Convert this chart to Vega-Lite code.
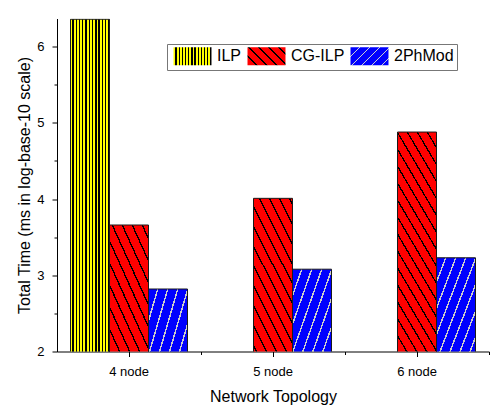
{
  "$schema": "https://vega.github.io/schema/vega-lite/v6.json",
  "autosize": {"type": "none"},
  "padding": {"left": 57, "top": 18.5, "right": 2, "bottom": 58.5},
  "width": 432,
  "height": 333,
  "params": [
    {
      "name": "ilpStops",
      "value": [
        {"offset": 0, "color": "#ff0"}, {"offset": 0.05, "color": "#ff0"}, {"offset": 0.05, "color": "#000"}, {"offset": 0.0833, "color": "#000"},
        {"offset": 0.0833, "color": "#ff0"}, {"offset": 0.1333, "color": "#ff0"}, {"offset": 0.1333, "color": "#000"}, {"offset": 0.1667, "color": "#000"},
        {"offset": 0.1667, "color": "#ff0"}, {"offset": 0.2167, "color": "#ff0"}, {"offset": 0.2167, "color": "#000"}, {"offset": 0.25, "color": "#000"},
        {"offset": 0.25, "color": "#ff0"}, {"offset": 0.3, "color": "#ff0"}, {"offset": 0.3, "color": "#000"}, {"offset": 0.3333, "color": "#000"},
        {"offset": 0.3333, "color": "#ff0"}, {"offset": 0.3833, "color": "#ff0"}, {"offset": 0.3833, "color": "#000"}, {"offset": 0.4167, "color": "#000"},
        {"offset": 0.4167, "color": "#ff0"}, {"offset": 0.4667, "color": "#ff0"}, {"offset": 0.4667, "color": "#000"}, {"offset": 0.5, "color": "#000"},
        {"offset": 0.5, "color": "#ff0"}, {"offset": 0.55, "color": "#ff0"}, {"offset": 0.55, "color": "#000"}, {"offset": 0.5833, "color": "#000"},
        {"offset": 0.5833, "color": "#ff0"}, {"offset": 0.6333, "color": "#ff0"}, {"offset": 0.6333, "color": "#000"}, {"offset": 0.6667, "color": "#000"},
        {"offset": 0.6667, "color": "#ff0"}, {"offset": 0.7167, "color": "#ff0"}, {"offset": 0.7167, "color": "#000"}, {"offset": 0.75, "color": "#000"},
        {"offset": 0.75, "color": "#ff0"}, {"offset": 0.8, "color": "#ff0"}, {"offset": 0.8, "color": "#000"}, {"offset": 0.8333, "color": "#000"},
        {"offset": 0.8333, "color": "#ff0"}, {"offset": 0.8833, "color": "#ff0"}, {"offset": 0.8833, "color": "#000"}, {"offset": 0.9167, "color": "#000"},
        {"offset": 0.9167, "color": "#ff0"}, {"offset": 0.9667, "color": "#ff0"}, {"offset": 0.9667, "color": "#000"}, {"offset": 1, "color": "#000"}
      ]
    },
    {
      "name": "cgStops",
      "value": [
        {"offset": 0, "color": "#f00"}, {"offset": 0.02833, "color": "#f00"}, {"offset": 0.02833, "color": "#000"}, {"offset": 0.03333, "color": "#000"},
        {"offset": 0.03333, "color": "#f00"}, {"offset": 0.06167, "color": "#f00"}, {"offset": 0.06167, "color": "#000"}, {"offset": 0.06667, "color": "#000"},
        {"offset": 0.06667, "color": "#f00"}, {"offset": 0.095, "color": "#f00"}, {"offset": 0.095, "color": "#000"}, {"offset": 0.1, "color": "#000"},
        {"offset": 0.1, "color": "#f00"}, {"offset": 0.12833, "color": "#f00"}, {"offset": 0.12833, "color": "#000"}, {"offset": 0.13333, "color": "#000"},
        {"offset": 0.13333, "color": "#f00"}, {"offset": 0.16167, "color": "#f00"}, {"offset": 0.16167, "color": "#000"}, {"offset": 0.16667, "color": "#000"},
        {"offset": 0.16667, "color": "#f00"}, {"offset": 0.195, "color": "#f00"}, {"offset": 0.195, "color": "#000"}, {"offset": 0.2, "color": "#000"},
        {"offset": 0.2, "color": "#f00"}, {"offset": 0.22833, "color": "#f00"}, {"offset": 0.22833, "color": "#000"}, {"offset": 0.23333, "color": "#000"},
        {"offset": 0.23333, "color": "#f00"}, {"offset": 0.26167, "color": "#f00"}, {"offset": 0.26167, "color": "#000"}, {"offset": 0.26667, "color": "#000"},
        {"offset": 0.26667, "color": "#f00"}, {"offset": 0.295, "color": "#f00"}, {"offset": 0.295, "color": "#000"}, {"offset": 0.3, "color": "#000"},
        {"offset": 0.3, "color": "#f00"}, {"offset": 0.32833, "color": "#f00"}, {"offset": 0.32833, "color": "#000"}, {"offset": 0.33333, "color": "#000"},
        {"offset": 0.33333, "color": "#f00"}, {"offset": 0.36167, "color": "#f00"}, {"offset": 0.36167, "color": "#000"}, {"offset": 0.36667, "color": "#000"},
        {"offset": 0.36667, "color": "#f00"}, {"offset": 0.395, "color": "#f00"}, {"offset": 0.395, "color": "#000"}, {"offset": 0.4, "color": "#000"},
        {"offset": 0.4, "color": "#f00"}, {"offset": 0.42833, "color": "#f00"}, {"offset": 0.42833, "color": "#000"}, {"offset": 0.43333, "color": "#000"},
        {"offset": 0.43333, "color": "#f00"}, {"offset": 0.46167, "color": "#f00"}, {"offset": 0.46167, "color": "#000"}, {"offset": 0.46667, "color": "#000"},
        {"offset": 0.46667, "color": "#f00"}, {"offset": 0.495, "color": "#f00"}, {"offset": 0.495, "color": "#000"}, {"offset": 0.5, "color": "#000"},
        {"offset": 0.5, "color": "#f00"}, {"offset": 0.52833, "color": "#f00"}, {"offset": 0.52833, "color": "#000"}, {"offset": 0.53333, "color": "#000"},
        {"offset": 0.53333, "color": "#f00"}, {"offset": 0.56167, "color": "#f00"}, {"offset": 0.56167, "color": "#000"}, {"offset": 0.56667, "color": "#000"},
        {"offset": 0.56667, "color": "#f00"}, {"offset": 0.595, "color": "#f00"}, {"offset": 0.595, "color": "#000"}, {"offset": 0.6, "color": "#000"},
        {"offset": 0.6, "color": "#f00"}, {"offset": 0.62833, "color": "#f00"}, {"offset": 0.62833, "color": "#000"}, {"offset": 0.63333, "color": "#000"},
        {"offset": 0.63333, "color": "#f00"}, {"offset": 0.66167, "color": "#f00"}, {"offset": 0.66167, "color": "#000"}, {"offset": 0.66667, "color": "#000"},
        {"offset": 0.66667, "color": "#f00"}, {"offset": 0.695, "color": "#f00"}, {"offset": 0.695, "color": "#000"}, {"offset": 0.7, "color": "#000"},
        {"offset": 0.7, "color": "#f00"}, {"offset": 0.72833, "color": "#f00"}, {"offset": 0.72833, "color": "#000"}, {"offset": 0.73333, "color": "#000"},
        {"offset": 0.73333, "color": "#f00"}, {"offset": 0.76167, "color": "#f00"}, {"offset": 0.76167, "color": "#000"}, {"offset": 0.76667, "color": "#000"},
        {"offset": 0.76667, "color": "#f00"}, {"offset": 0.795, "color": "#f00"}, {"offset": 0.795, "color": "#000"}, {"offset": 0.8, "color": "#000"},
        {"offset": 0.8, "color": "#f00"}, {"offset": 0.82833, "color": "#f00"}, {"offset": 0.82833, "color": "#000"}, {"offset": 0.83333, "color": "#000"},
        {"offset": 0.83333, "color": "#f00"}, {"offset": 0.86167, "color": "#f00"}, {"offset": 0.86167, "color": "#000"}, {"offset": 0.86667, "color": "#000"},
        {"offset": 0.86667, "color": "#f00"}, {"offset": 0.895, "color": "#f00"}, {"offset": 0.895, "color": "#000"}, {"offset": 0.9, "color": "#000"},
        {"offset": 0.9, "color": "#f00"}, {"offset": 0.92833, "color": "#f00"}, {"offset": 0.92833, "color": "#000"}, {"offset": 0.93333, "color": "#000"},
        {"offset": 0.93333, "color": "#f00"}, {"offset": 0.96167, "color": "#f00"}, {"offset": 0.96167, "color": "#000"}, {"offset": 0.96667, "color": "#000"},
        {"offset": 0.96667, "color": "#f00"}, {"offset": 0.995, "color": "#f00"}, {"offset": 0.995, "color": "#000"}, {"offset": 1, "color": "#000"}
      ]
    },
    {
      "name": "phStops",
      "value": [
        {"offset": 0, "color": "#00f"}, {"offset": 0.02833, "color": "#00f"}, {"offset": 0.02833, "color": "#ccc"}, {"offset": 0.03333, "color": "#ccc"},
        {"offset": 0.03333, "color": "#00f"}, {"offset": 0.06167, "color": "#00f"}, {"offset": 0.06167, "color": "#ccc"}, {"offset": 0.06667, "color": "#ccc"},
        {"offset": 0.06667, "color": "#00f"}, {"offset": 0.095, "color": "#00f"}, {"offset": 0.095, "color": "#ccc"}, {"offset": 0.1, "color": "#ccc"},
        {"offset": 0.1, "color": "#00f"}, {"offset": 0.12833, "color": "#00f"}, {"offset": 0.12833, "color": "#ccc"}, {"offset": 0.13333, "color": "#ccc"},
        {"offset": 0.13333, "color": "#00f"}, {"offset": 0.16167, "color": "#00f"}, {"offset": 0.16167, "color": "#ccc"}, {"offset": 0.16667, "color": "#ccc"},
        {"offset": 0.16667, "color": "#00f"}, {"offset": 0.195, "color": "#00f"}, {"offset": 0.195, "color": "#ccc"}, {"offset": 0.2, "color": "#ccc"},
        {"offset": 0.2, "color": "#00f"}, {"offset": 0.22833, "color": "#00f"}, {"offset": 0.22833, "color": "#ccc"}, {"offset": 0.23333, "color": "#ccc"},
        {"offset": 0.23333, "color": "#00f"}, {"offset": 0.26167, "color": "#00f"}, {"offset": 0.26167, "color": "#ccc"}, {"offset": 0.26667, "color": "#ccc"},
        {"offset": 0.26667, "color": "#00f"}, {"offset": 0.295, "color": "#00f"}, {"offset": 0.295, "color": "#ccc"}, {"offset": 0.3, "color": "#ccc"},
        {"offset": 0.3, "color": "#00f"}, {"offset": 0.32833, "color": "#00f"}, {"offset": 0.32833, "color": "#ccc"}, {"offset": 0.33333, "color": "#ccc"},
        {"offset": 0.33333, "color": "#00f"}, {"offset": 0.36167, "color": "#00f"}, {"offset": 0.36167, "color": "#ccc"}, {"offset": 0.36667, "color": "#ccc"},
        {"offset": 0.36667, "color": "#00f"}, {"offset": 0.395, "color": "#00f"}, {"offset": 0.395, "color": "#ccc"}, {"offset": 0.4, "color": "#ccc"},
        {"offset": 0.4, "color": "#00f"}, {"offset": 0.42833, "color": "#00f"}, {"offset": 0.42833, "color": "#ccc"}, {"offset": 0.43333, "color": "#ccc"},
        {"offset": 0.43333, "color": "#00f"}, {"offset": 0.46167, "color": "#00f"}, {"offset": 0.46167, "color": "#ccc"}, {"offset": 0.46667, "color": "#ccc"},
        {"offset": 0.46667, "color": "#00f"}, {"offset": 0.495, "color": "#00f"}, {"offset": 0.495, "color": "#ccc"}, {"offset": 0.5, "color": "#ccc"},
        {"offset": 0.5, "color": "#00f"}, {"offset": 0.52833, "color": "#00f"}, {"offset": 0.52833, "color": "#ccc"}, {"offset": 0.53333, "color": "#ccc"},
        {"offset": 0.53333, "color": "#00f"}, {"offset": 0.56167, "color": "#00f"}, {"offset": 0.56167, "color": "#ccc"}, {"offset": 0.56667, "color": "#ccc"},
        {"offset": 0.56667, "color": "#00f"}, {"offset": 0.595, "color": "#00f"}, {"offset": 0.595, "color": "#ccc"}, {"offset": 0.6, "color": "#ccc"},
        {"offset": 0.6, "color": "#00f"}, {"offset": 0.62833, "color": "#00f"}, {"offset": 0.62833, "color": "#ccc"}, {"offset": 0.63333, "color": "#ccc"},
        {"offset": 0.63333, "color": "#00f"}, {"offset": 0.66167, "color": "#00f"}, {"offset": 0.66167, "color": "#ccc"}, {"offset": 0.66667, "color": "#ccc"},
        {"offset": 0.66667, "color": "#00f"}, {"offset": 0.695, "color": "#00f"}, {"offset": 0.695, "color": "#ccc"}, {"offset": 0.7, "color": "#ccc"},
        {"offset": 0.7, "color": "#00f"}, {"offset": 0.72833, "color": "#00f"}, {"offset": 0.72833, "color": "#ccc"}, {"offset": 0.73333, "color": "#ccc"},
        {"offset": 0.73333, "color": "#00f"}, {"offset": 0.76167, "color": "#00f"}, {"offset": 0.76167, "color": "#ccc"}, {"offset": 0.76667, "color": "#ccc"},
        {"offset": 0.76667, "color": "#00f"}, {"offset": 0.795, "color": "#00f"}, {"offset": 0.795, "color": "#ccc"}, {"offset": 0.8, "color": "#ccc"},
        {"offset": 0.8, "color": "#00f"}, {"offset": 0.82833, "color": "#00f"}, {"offset": 0.82833, "color": "#ccc"}, {"offset": 0.83333, "color": "#ccc"},
        {"offset": 0.83333, "color": "#00f"}, {"offset": 0.86167, "color": "#00f"}, {"offset": 0.86167, "color": "#ccc"}, {"offset": 0.86667, "color": "#ccc"},
        {"offset": 0.86667, "color": "#00f"}, {"offset": 0.895, "color": "#00f"}, {"offset": 0.895, "color": "#ccc"}, {"offset": 0.9, "color": "#ccc"},
        {"offset": 0.9, "color": "#00f"}, {"offset": 0.92833, "color": "#00f"}, {"offset": 0.92833, "color": "#ccc"}, {"offset": 0.93333, "color": "#ccc"},
        {"offset": 0.93333, "color": "#00f"}, {"offset": 0.96167, "color": "#00f"}, {"offset": 0.96167, "color": "#ccc"}, {"offset": 0.96667, "color": "#ccc"},
        {"offset": 0.96667, "color": "#00f"}, {"offset": 0.995, "color": "#00f"}, {"offset": 0.995, "color": "#ccc"}, {"offset": 1, "color": "#ccc"}
      ]
    }
  ],
  "config": {
    "font": "Liberation Sans",
    "view": {"stroke": null},
    "axis": {
      "domainColor": "#000",
      "tickColor": "#000",
      "labelColor": "#000",
      "titleColor": "#000",
      "labelFontSize": 13,
      "titleFontSize": 16,
      "titleFontWeight": "normal",
      "grid": false
    }
  },
  "data": {
    "values": [
      {"topology": "4 node", "series": "ILP", "time": 6.36},
      {"topology": "4 node", "series": "CG-ILP", "time": 3.66},
      {"topology": "4 node", "series": "2PhMod", "time": 2.82},
      {"topology": "5 node", "series": "CG-ILP", "time": 4.01},
      {"topology": "5 node", "series": "2PhMod", "time": 3.08},
      {"topology": "6 node", "series": "CG-ILP", "time": 4.88},
      {"topology": "6 node", "series": "2PhMod", "time": 3.23}
    ]
  },
  "layer": [
    {
      "mark": {
        "type": "bar",
        "stroke": "#1a1a1a",
        "strokeWidth": 1,
        "clip": true,
        "fill": {
          "expr": "(datum.series || datum.value) === 'ILP' ? {gradient: 'linear', x1: 0, y1: 0, x2: 1, y2: 0, stops: ilpStops} : (datum.series || datum.value) === 'CG-ILP' ? {gradient: 'linear', x1: 0, y1: 1, x2: 300 * (datum.time ? bandwidth('xOffset') : 38) / (pow(datum.time ? bandwidth('xOffset') : 38, 2) + pow(datum.time ? scale('y', 2) - scale('y', datum.time) : 18, 2)), y2: 1 - 300 * (datum.time ? scale('y', 2) - scale('y', datum.time) : 18) / (pow(datum.time ? bandwidth('xOffset') : 38, 2) + pow(datum.time ? scale('y', 2) - scale('y', datum.time) : 18, 2)), stops: cgStops} : {gradient: 'linear', x1: 0, y1: 0, x2: 300 * (datum.time ? bandwidth('xOffset') : 38) / (pow(datum.time ? bandwidth('xOffset') : 38, 2) + pow(datum.time ? scale('y', 2) - scale('y', datum.time) : 18, 2)), y2: 300 * (datum.time ? scale('y', 2) - scale('y', datum.time) : 18) / (pow(datum.time ? bandwidth('xOffset') : 38, 2) + pow(datum.time ? scale('y', 2) - scale('y', datum.time) : 18, 2)), stops: phStops}"
        }
      },
      "encoding": {
        "x": {
          "field": "topology",
          "type": "nominal",
          "scale": {"paddingInner": 0.1875, "paddingOuter": 0.09375},
          "axis": {
            "title": "Network Topology",
            "labelAngle": 0,
            "tickSize": 5,
            "labelPadding": 9,
            "titlePadding": 10
          }
        },
        "xOffset": {
          "field": "series",
          "type": "nominal",
          "scale": {"domain": ["ILP", "CG-ILP", "2PhMod"]}
        },
        "y": {
          "field": "time",
          "type": "quantitative",
          "scale": {"domain": [2, 6.37], "nice": false, "zero": false},
          "axis": {
            "title": "Total Time (ms in log-base-10 scale)",
            "values": [2, 2.5, 3, 3.5, 4, 4.5, 5, 5.5, 6],
            "labelExpr": "datum.value % 1 === 0 ? format(datum.value, 'd') : ''",
            "tickSize": {"condition": {"test": "datum.value % 1 !== 0", "value": 3}, "value": 5},
            "labelPadding": 8,
            "titlePadding": 4
          }
        },
        "opacity": {
          "field": "series",
          "type": "nominal",
          "scale": {"domain": ["ILP", "CG-ILP", "2PhMod"], "range": [1, 1, 1]},
          "legend": {
            "orient": "none",
            "legendX": 110,
            "legendY": 25.5,
            "direction": "horizontal",
            "title": null,
            "symbolType": "M-0.61,-1H3.61V1H-0.61Z",
            "symbolSize": 324,
            "symbolStrokeColor": "#000",
            "symbolStrokeWidth": 1,
            "labelFontSize": 16,
            "labelColor": "#000",
            "labelOffset": 28.5,
            "columnPadding": 2,
            "padding": 2.5,
            "strokeColor": "#777"
          }
        }
      }
    },
    {
      "mark": {"type": "bar", "opacity": 0},
      "encoding": {
        "x": {
          "field": "topology",
          "type": "nominal",
          "scale": {"paddingInner": 0.1875, "paddingOuter": 0.09375},
          "axis": {
            "orient": "bottom",
            "title": null,
            "labels": false,
            "domain": false,
            "bandPosition": 1,
            "tickOffset": 13.5,
            "tickSize": 3
          }
        },
        "y": {"field": "time", "type": "quantitative"}
      }
    }
  ],
  "resolve": {"axis": {"x": "independent"}}
}
